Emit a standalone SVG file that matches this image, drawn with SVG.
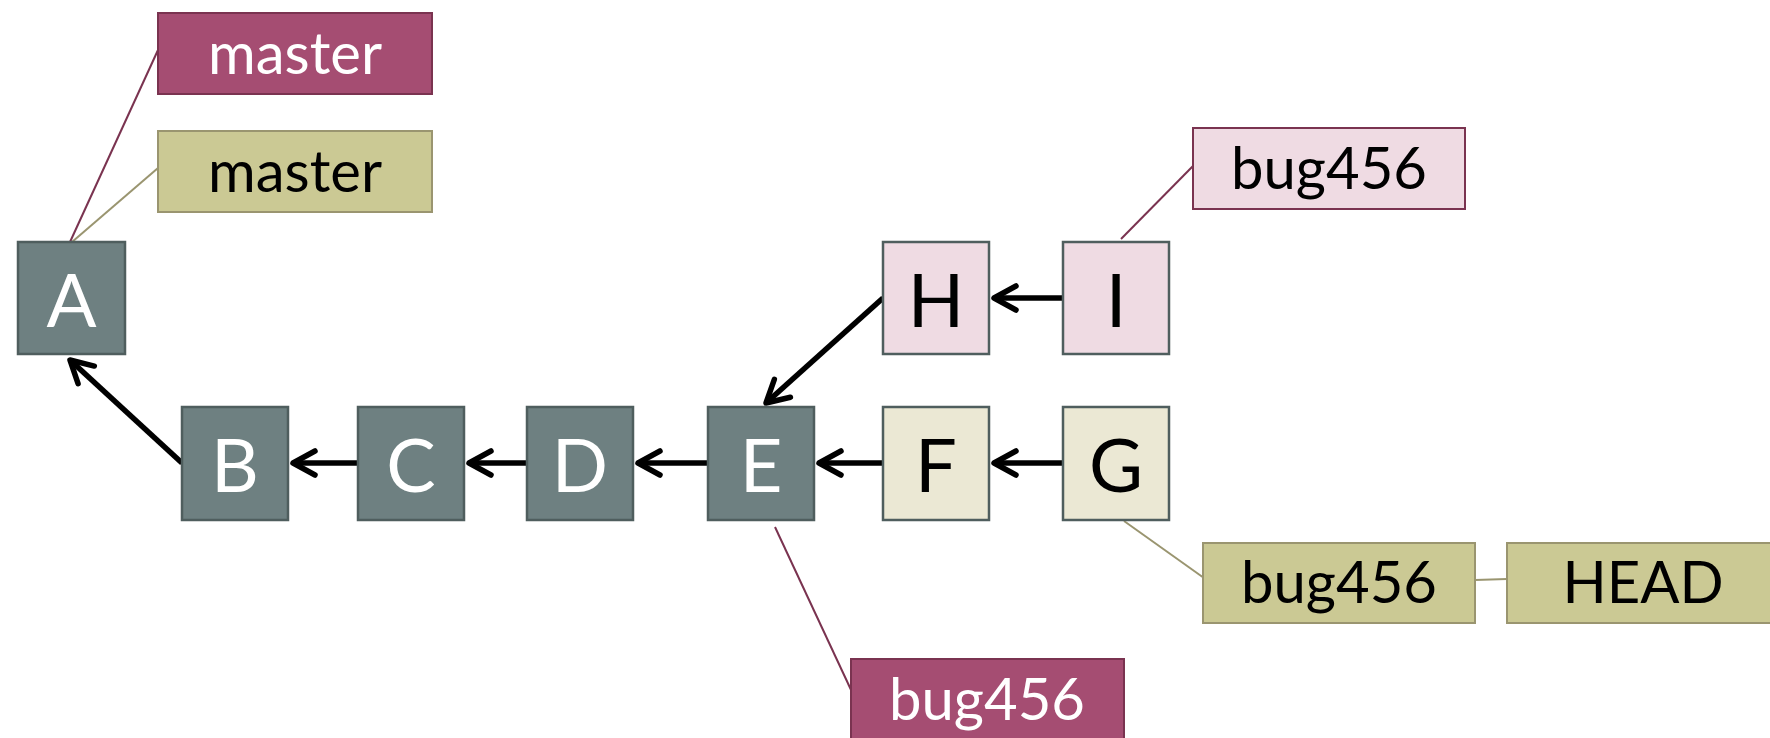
<svg xmlns="http://www.w3.org/2000/svg" width="1770" height="738" viewBox="0 0 1770 738">
<style>
.node rect{stroke:#4f5e5e;stroke-width:2.5}
.dark rect{fill:#6e8081}
.pk rect{fill:#efdbe3}
.ol rect{fill:#ebe8d4}
.nt{font-family:Lato,"Open Sans",sans-serif;font-size:74px;text-anchor:middle}
.dark .nt{fill:#fff}
.pk .nt,.ol .nt{fill:#000}
.lbl text{font-family:Lato,"Open Sans",sans-serif;font-size:58px;text-anchor:middle}
.lp rect{fill:#a54d72;stroke:#7a3350;stroke-width:2}
.lp text{fill:#fff}
.lo rect{fill:#cbc994;stroke:#9a9570;stroke-width:2}
.lo text{fill:#000}
.ll rect{fill:#efdbe3;stroke:#7a3350;stroke-width:2}
.ll text{fill:#000}
.arr{stroke:#000;stroke-width:5.5;fill:none;marker-end:url(#ah)}
.cp{stroke:#7a3350;stroke-width:2;fill:none}
.co{stroke:#9a9570;stroke-width:2;fill:none}
</style>
<defs>
<marker id="ah" markerUnits="userSpaceOnUse" markerWidth="40" markerHeight="40" refX="0" refY="0" viewBox="-25 -20 40 40" orient="auto" overflow="visible">
<path d="M-22,-12 L0,0 L-22,12" fill="none" stroke="#000" stroke-width="5.5" stroke-linecap="round" stroke-linejoin="round"/>
</marker>
</defs>
<g id="connectors">
<line class="cp" x1="70" y1="242" x2="158" y2="50"/>
<line class="co" x1="72" y1="242" x2="158" y2="168"/>
<line class="cp" x1="1121" y1="239" x2="1193" y2="166"/>
<line class="co" x1="1124" y1="521" x2="1204" y2="578"/>
<line class="co" x1="1475" y1="580" x2="1507" y2="579" stroke-width="3"/>
<line class="cp" x1="775" y1="527" x2="852" y2="692"/>
<line class="arr" x1="182" y1="463" x2="70" y2="360"/>
<line class="arr" x1="358" y1="463" x2="293" y2="463"/>
<line class="arr" x1="527" y1="463" x2="469" y2="463"/>
<line class="arr" x1="708" y1="463" x2="638" y2="463"/>
<line class="arr" x1="883" y1="463" x2="819" y2="463"/>
<line class="arr" x1="1063" y1="463" x2="994" y2="463"/>
<line class="arr" x1="1063" y1="298" x2="994" y2="298"/>
<line class="arr" x1="883" y1="298" x2="766" y2="403"/>
</g>
<g id="nodeA" class="node dark"><rect x="18" y="242" width="107" height="112"/><text class="nt" x="71.5" y="327">A</text></g>
<g id="nodeB" class="node dark"><rect x="182" y="407" width="106" height="113"/><text class="nt" x="235" y="492">B</text></g>
<g id="nodeC" class="node dark"><rect x="358" y="407" width="106" height="113"/><text class="nt" x="411" y="492">C</text></g>
<g id="nodeD" class="node dark"><rect x="527" y="407" width="106" height="113"/><text class="nt" x="580" y="492">D</text></g>
<g id="nodeE" class="node dark"><rect x="708" y="407" width="106" height="113"/><text class="nt" x="761" y="492">E</text></g>
<g id="nodeF" class="node ol"><rect x="883" y="407" width="106" height="113"/><text class="nt" x="936" y="492">F</text></g>
<g id="nodeG" class="node ol"><rect x="1063" y="407" width="106" height="113"/><text class="nt" x="1116" y="492">G</text></g>
<g id="nodeH" class="node pk"><rect x="883" y="242" width="106" height="112"/><text class="nt" x="936" y="327">H</text></g>
<g id="nodeI" class="node pk"><rect x="1063" y="242" width="106" height="112"/><text class="nt" x="1116" y="327">I</text></g>
<g id="lblMasterRemote" class="lbl lp"><rect x="158" y="13" width="274" height="81"/><text x="295" y="74">master</text></g>
<g id="lblMasterLocal" class="lbl lo"><rect x="158" y="131" width="274" height="81"/><text x="295" y="192">master</text></g>
<g id="lblBugLight" class="lbl ll"><rect x="1193" y="128" width="272" height="81"/><text x="1329" y="189">bug456</text></g>
<g id="lblBugLocal" class="lbl lo"><rect x="1203" y="543" width="272" height="80"/><text x="1339" y="603">bug456</text></g>
<g id="lblHead" class="lbl lo"><rect x="1507" y="543" width="273" height="80"/><text x="1643" y="603">HEAD</text></g>
<g id="lblBugRemote" class="lbl lp"><rect x="851" y="659" width="273" height="81"/><text x="987" y="720">bug456</text></g>
</svg>
